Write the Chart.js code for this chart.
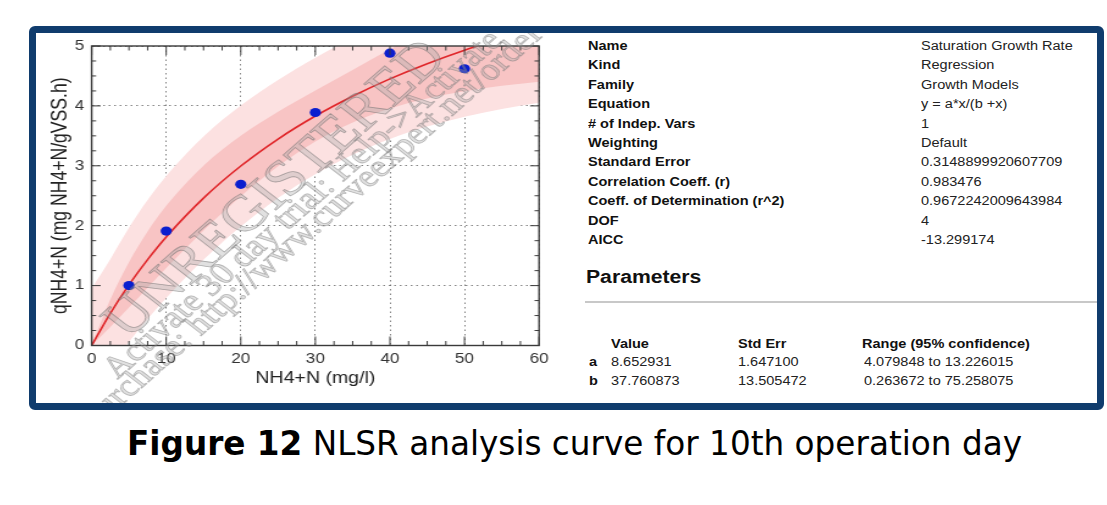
<!DOCTYPE html>
<html>
<head>
<meta charset="utf-8">
<script src="https://cdn.jsdelivr.net/npm/chart.js@4.4.1/dist/chart.umd.min.js"></script>
<style>
  html, body { margin: 0; padding: 0; background: #fff; }
  body { width: 1107px; height: 505px; position: relative; overflow: hidden;
         font-family: "Liberation Sans", Arial, sans-serif; }
  #frame { position: absolute; left: 29px; top: 26px; width: 1075px; height: 384px;
           box-sizing: border-box; border: 7px solid #103c6d; border-radius: 6px; }
  #fitChart { position: absolute; left: 36px; top: 33px; }
  .t { position: absolute; white-space: nowrap; transform: scaleX(1.21); transform-origin: 0 50%;
       font-size: 12px; line-height: 16px; color: #222; }
  .b { font-weight: bold; color: #111; }
  #rule { position: absolute; left: 585px; top: 301px; width: 512px; height: 2px; background: #c8c8c8; }
  #caption { position: absolute; left: 127px; top: 424px; white-space: nowrap;
             font-family: "DejaVu Sans", sans-serif; font-size: 33px; line-height: 40px;
             color: #000; transform-origin: 0 50%; }
</style>
</head>
<body>
<div id="frame"></div>
<!-- drawn at 431px wide, shown 526px wide -->
<canvas id="fitChart" width="431" height="370" style="width:526px;height:370px"></canvas>
<div id="panel"></div>
<div id="rule"></div>
<div id="caption"><b>Figure 12</b> NLSR analysis curve for 10th operation day</div>

<script>
// measured points
const concX = [5, 10, 20, 30, 40, 50];
const rateY = [1.00, 1.91, 2.69, 3.89, 4.88, 4.62];

// fitted curve y = a*x/(b+x) and its 95% bands
const fitX      = [0, 2.5, 5, 7.5, 10, 15, 20, 25, 30, 35, 40, 45, 50, 55, 60];
const fitY      = [0, 0.537, 1.012, 1.434, 1.812, 2.460, 2.996, 3.447, 3.831, 4.162, 4.451, 4.705, 4.930, 5.130, 5.311];
const confUpper = [0, 0.766, 1.390, 1.904, 2.332, 3.000, 3.500, 3.901, 4.256, 4.600, 4.945, 5.286, 5.615, 5.925, 6.217];
const confLower = [0, 0.308, 0.634, 0.964, 1.292, 1.920, 2.492, 2.993, 3.406, 3.724, 3.957, 4.124, 4.245, 4.335, 4.405];
const predUpper = [0.95, 1.441, 1.965, 2.427, 2.829, 3.488, 4.005, 4.432, 4.803, 5.140, 5.455, 5.755, 6.040, 6.311, 6.570];
const predLower = [-0.95, -0.367, 0.059, 0.441, 0.795, 1.432, 1.987, 2.462, 2.859, 3.184, 3.447, 3.655, 3.820, 3.949, 4.052];

// results table
const statLabels = ["Name", "Kind", "Family", "Equation", "# of Indep. Vars", "Weighting",
  "Standard Error", "Correlation Coeff. (r)", "Coeff. of Determination (r^2)", "DOF", "AICC"];
const statValues = ["Saturation Growth Rate", "Regression", "Growth Models", "y = a*x/(b +x)", "1", "Default",
  "0.3148899920607709", "0.983476", "0.9672242009643984", "4", "-13.299174"];
const paramHeaders = ["Value", "Std Err", "Range (95% confidence)"];
const paramNames = ["a", "b"];
const paramValues = ["8.652931", "37.760873"];
const paramErrors = ["1.647100", "13.505472"];
const paramRanges = ["4.079848 to 13.226015", "0.263672 to 75.258075"];

// ---- text panel ----
const panel = document.getElementById("panel");
function addText(txt, left, midY, cls, size) {
  const d = document.createElement("div");
  d.className = "t " + (cls || "");
  d.textContent = txt;
  d.style.left = left + "px";
  d.style.top = (midY - 8) + "px";
  if (size) { d.style.fontSize = size + "px"; d.style.lineHeight = "20px"; d.style.top = (midY - 10) + "px"; }
  panel.appendChild(d);
}
statLabels.forEach((s, i) => {
  addText(s, 588, 46 + i * 19.4, "b");
  addText(statValues[i], 921, 46 + i * 19.4);
});
addText("Parameters", 586, 276.5, "b", 17.5);
addText(paramHeaders[0], 611, 344, "b");
addText(paramHeaders[1], 738, 344, "b");
addText(paramHeaders[2], 862, 344, "b");
paramNames.forEach((p, i) => {
  const y = 362 + i * 19.2;
  addText(p, 589, y, "b");
  addText(paramValues[i], 611, y);
  addText(paramErrors[i], 738, y);
  addText(paramRanges[i], 864, y);
});

// caption width
const cap = document.getElementById("caption");
cap.style.transform = "scaleX(" + (895 / cap.getBoundingClientRect().width) + ")";

// ---- chart ----
const pts = (xs, ys) => xs.map((x, i) => ({ x: x, y: ys[i] }));

// box, dense ticks on all four sides, pointing inward
const frameTicks = {
  id: "frameTicks",
  afterDraw(chart) {
    const { ctx, chartArea: a, scales: { x, y } } = chart;
    const seg = (x1, y1, x2, y2) => { ctx.beginPath(); ctx.moveTo(x1, y1); ctx.lineTo(x2, y2); ctx.stroke(); };
    ctx.save();
    ctx.strokeStyle = "#3a3a3a";
    ctx.lineWidth = 1;
    for (let v = 0; v <= 60; v += 2.5) {
      const px = x.getPixelForValue(v);
      const len = v % 10 === 0 ? 9 : 4.5;
      seg(px, a.bottom, px, a.bottom - len);
      seg(px, a.top, px, a.top + len);
    }
    for (let v = 0; v <= 5; v += 0.25) {
      const py = y.getPixelForValue(v);
      const len = (v % 1 === 0 ? 9 : 4.5) / 1.22;
      seg(a.left, py, a.left + len, py);
      seg(a.right, py, a.right - len, py);
    }
    ctx.lineWidth = 1.4;
    ctx.strokeRect(a.left, a.top, a.width, a.height);
    ctx.restore();
  }
};

// trial-version stamp across the plot
const stamp = {
  id: "stamp",
  afterDraw(chart) {
    const ctx = chart.ctx;
    const put = (txt, cx, cy, size, fill, stroke) => {
      ctx.save();
      ctx.translate(cx, cy);
      ctx.rotate(-46.9 * Math.PI / 180);
      ctx.font = size + 'px "Liberation Serif", serif';
      ctx.textAlign = "center";
      ctx.textBaseline = "middle";
      ctx.fillStyle = fill;
      ctx.fillText(txt, 0, 0);
      ctx.strokeStyle = stroke;
      ctx.lineWidth = 0.8;
      ctx.strokeText(txt, 0, 0);
      ctx.restore();
    };
    put("UNREGISTERED", 197, 157, 51, "rgba(170,170,170,0.35)", "rgba(110,110,110,0.55)");
    put("Activate 30 day trial: Help->Activate", 219, 172, 31, "rgba(170,170,170,0.35)", "rgba(120,120,120,0.5)");
    put("Purchase: http://www.curveexpert.net/order", 226, 194, 31, "rgba(170,170,170,0.35)", "rgba(120,120,120,0.5)");
  }
};

const band = (data, color, fill) => ({
  type: "line", data: data, borderWidth: 0, pointRadius: 0, fill: fill,
  backgroundColor: color, borderColor: color, cubicInterpolationMode: "monotone"
});

Chart.defaults.font.family = '"Liberation Sans", Arial, sans-serif';

new Chart(document.getElementById("fitChart"), {
  type: "scatter",
  data: {
    datasets: [
      { data: pts(concX, rateY), backgroundColor: "#0a1ecf", borderColor: "#0a1ecf",
        pointRadius: 4.6, pointHoverRadius: 4.6, borderWidth: 0 },
      { type: "line", data: pts(fitX, fitY), borderColor: "#e0262a", borderWidth: 1.6,
        pointRadius: 0, fill: false, cubicInterpolationMode: "monotone" },
      band(pts(fitX, confUpper), "rgb(248,196,196)", "+1"),
      band(pts(fitX, confLower), "rgb(248,196,196)", false),
      band(pts(fitX, predUpper), "rgb(252,225,225)", "+1"),
      band(pts(fitX, predLower), "rgb(252,225,225)", false)
    ]
  },
  options: {
    responsive: false,
    animation: false,
    events: [],
    layout: { padding: { left: 0, top: 13, right: 18.8, bottom: 0 } },
    plugins: { legend: { display: false }, tooltip: { enabled: false } },
    scales: {
      x: {
        type: "linear", min: 0, max: 60, z: 1,
        ticks: { stepSize: 10, padding: 5, color: "#333", font: { size: 14 } },
        grid: { color: "rgba(80,80,80,0.7)", lineWidth: 1, drawTicks: false },
        border: { display: false, dash: [1.5, 3] },
        title: { display: true, text: "NH4+N (mg/l)", color: "#222", font: { size: 16 },
                 padding: { top: 0, bottom: 14.4 } },
        afterFit(s) { s.height = 57.5; s.paddingLeft = 0; s.paddingRight = 0; }
      },
      y: {
        type: "linear", min: 0, max: 5, z: 1,
        ticks: { stepSize: 1, padding: 6, color: "#333", font: { size: 14 } },
        grid: { color: "rgba(80,80,80,0.7)", lineWidth: 1, drawTicks: false },
        border: { display: false, dash: [1.5, 3] },
        title: { display: true, text: "qNH4+N (mg NH4+N/gVSS.h)", color: "#222", font: { size: 17.6 },
                 padding: { top: 9.2, bottom: 0 } },
        afterFit(s) { s.width = 45.6; s.paddingTop = 0; s.paddingBottom = 0; }
      }
    }
  },
  plugins: [frameTicks, stamp]
});
</script>
</body>
</html>
